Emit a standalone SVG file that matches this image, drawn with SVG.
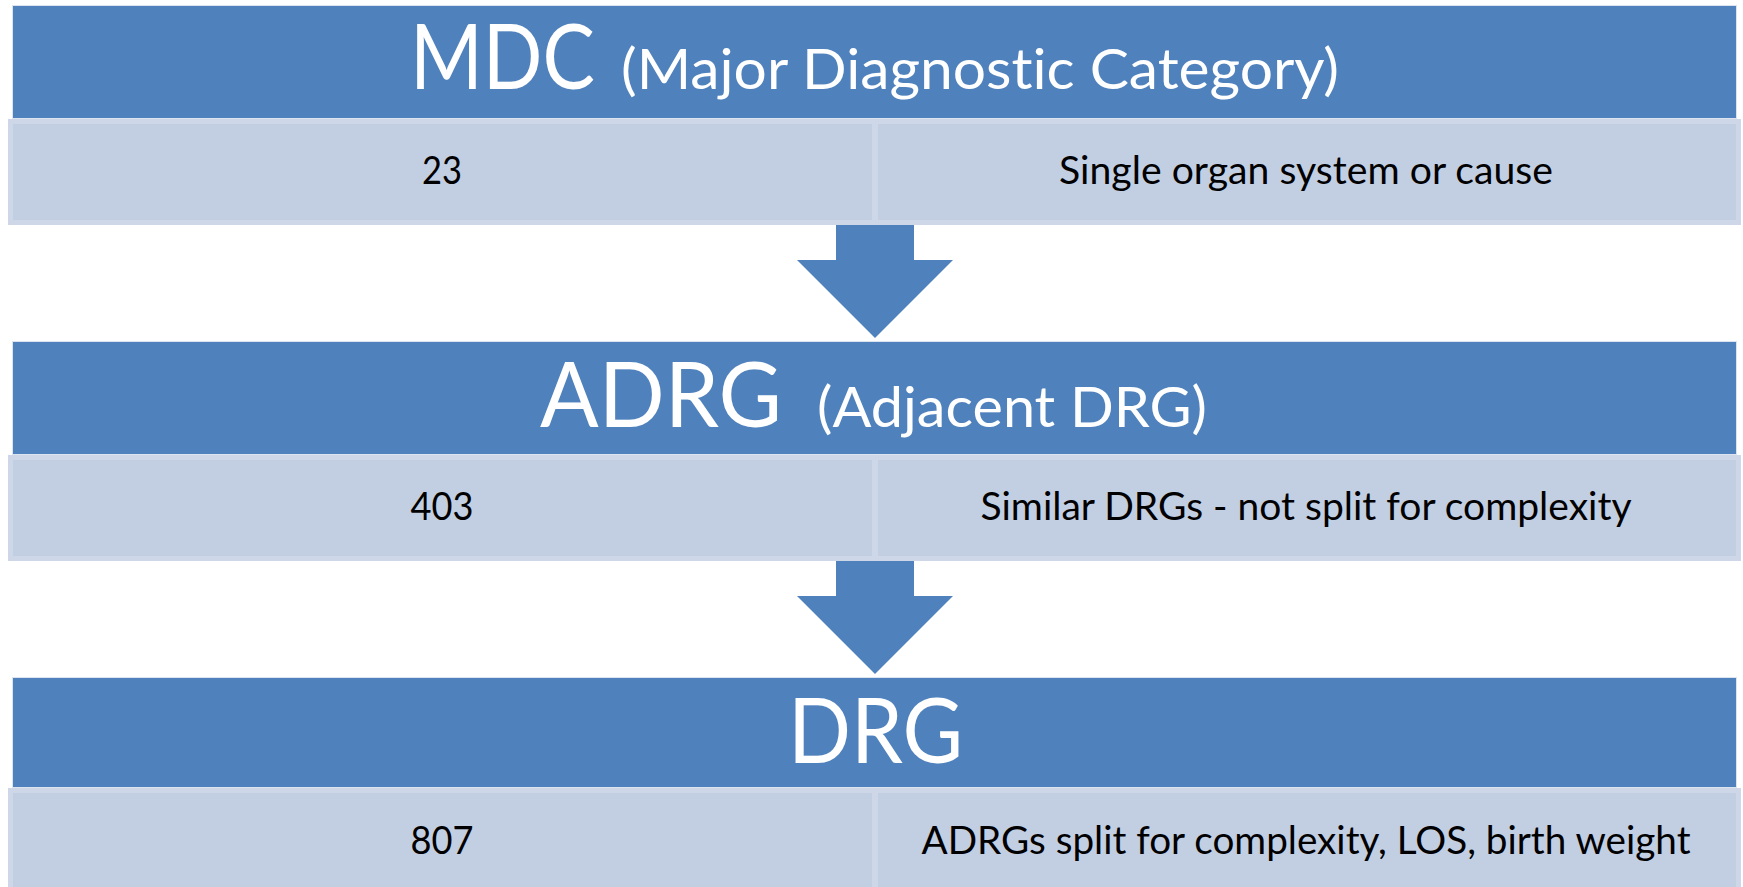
<svg xmlns="http://www.w3.org/2000/svg" width="1743" height="887" viewBox="0 0 1743 887">
<style>
.hdr{fill:#4F81BD;stroke:#DCE4F0;stroke-width:1}
.cell{fill:#C2CFE3;stroke:#CDD7E8;stroke-width:5}
.arrow{fill:#4F81BD}
text{font-variant-ligatures:none}
.big{font-family:Lato,"Liberation Sans",sans-serif;font-size:92px;fill:#FFFFFF}
.sub{font-family:Lato,"Liberation Sans",sans-serif;font-size:57px;fill:#FFFFFF}
.txt{font-family:Lato,"Liberation Sans",sans-serif;font-size:39px;fill:#000000}
</style>
<rect width="1743" height="887" fill="#FFFFFF"/>
<g id="connectors">
<polygon class="arrow" points="836,222 914,222 914,260 953,260 875,338 797,260 836,260"/>
<polygon class="arrow" points="836,558 914,558 914,596 953,596 875,674 797,596 836,596"/>
</g>
<g id="node-mdc">
<rect class="hdr" x="12.5" y="5.5" width="1724" height="113"/>
<text class="big" x="410" y="89" textLength="185" lengthAdjust="spacingAndGlyphs">MDC</text>
<text class="sub" x="621" y="89" textLength="718" lengthAdjust="spacingAndGlyphs">(Major Diagnostic Category)</text>
<rect class="cell" x="10.5" y="121.5" width="864" height="101"/>
<rect class="cell" x="875.5" y="121.5" width="863" height="101"/>
<text class="txt" x="442" y="184" text-anchor="middle" textLength="40" lengthAdjust="spacingAndGlyphs">23</text>
<text class="txt" x="1306" y="184" text-anchor="middle" textLength="494" lengthAdjust="spacingAndGlyphs">Single organ system or cause</text>
</g>
<g id="node-adrg">
<rect class="hdr" x="12.5" y="341.5" width="1724" height="113"/>
<text class="big" x="540" y="427" textLength="242" lengthAdjust="spacingAndGlyphs">ADRG</text>
<text class="sub" x="817" y="427" textLength="390" lengthAdjust="spacingAndGlyphs">(Adjacent DRG)</text>
<rect class="cell" x="10.5" y="457.5" width="864" height="101"/>
<rect class="cell" x="875.5" y="457.5" width="863" height="101"/>
<text class="txt" x="442" y="520" text-anchor="middle" textLength="63" lengthAdjust="spacingAndGlyphs">403</text>
<text class="txt" x="1306" y="520" text-anchor="middle" textLength="651" lengthAdjust="spacingAndGlyphs">Similar DRGs - not split for complexity</text>
</g>
<g id="node-drg">
<rect class="hdr" x="12.5" y="677.5" width="1724" height="110"/>
<text class="big" x="788" y="763" textLength="175" lengthAdjust="spacingAndGlyphs">DRG</text>
<rect class="cell" x="10.5" y="790.5" width="864" height="110"/>
<rect class="cell" x="875.5" y="790.5" width="863" height="110"/>
<text class="txt" x="442" y="854" text-anchor="middle" textLength="63" lengthAdjust="spacingAndGlyphs">807</text>
<text class="txt" x="1306" y="854" text-anchor="middle" textLength="769" lengthAdjust="spacingAndGlyphs">ADRGs split for complexity, LOS, birth weight</text>
</g>
</svg>
